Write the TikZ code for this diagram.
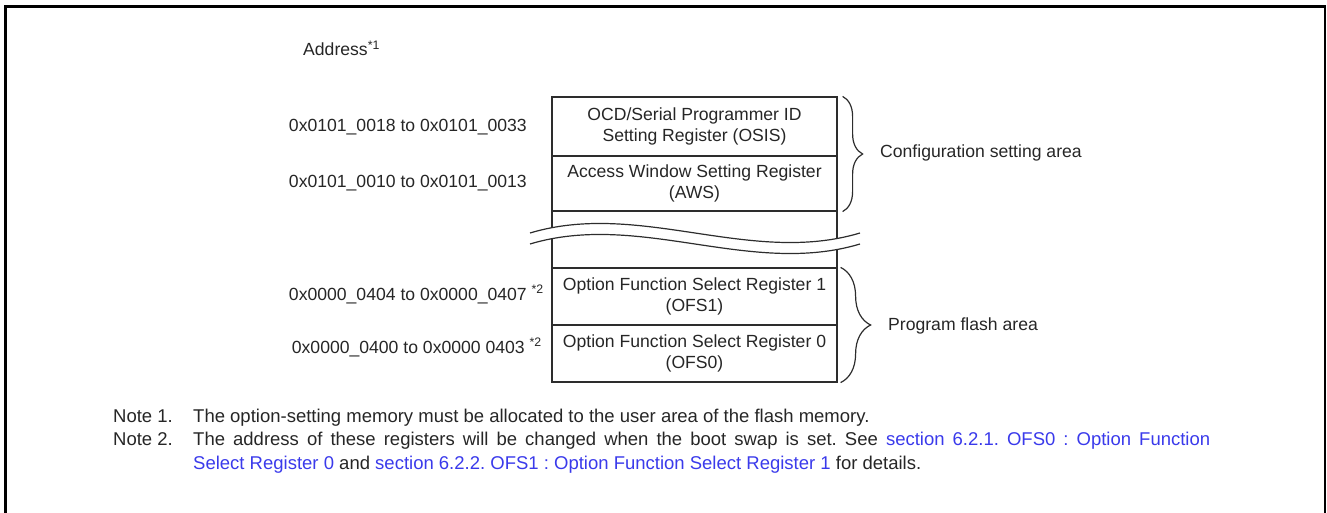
\documentclass[tikz,border=0pt]{standalone}
\usepackage{fontspec}
\setmainfont{Liberation Sans}
\usetikzlibrary{decorations.pathreplacing}
\definecolor{txtgray}{RGB}{38,38,38}
\definecolor{linegray}{RGB}{45,45,45}
\definecolor{linkblue}{RGB}{58,58,235}
\frenchspacing

\begin{document}
\begin{tikzpicture}[x=1pt,y=-1pt]
  \tikzstyle{reg}=[draw=linegray,line width=1.2pt,minimum width=285pt,inner sep=0pt,align=center,text=txtgray,font=\fontsize{17.6}{21.5}\selectfont]
  \tikzstyle{lbl}=[inner sep=0pt,text=txtgray,font=\fontsize{17.6}{21.5}\selectfont]
  \tikzstyle{note}=[inner sep=0pt,text=txtgray,font=\fontsize{18.5}{23}\selectfont,anchor=base west]
  \tikzstyle{wave}=[draw=linegray,line width=1.2pt]
  \tikzstyle{bracestyle}=[draw=linegray,line width=1.2pt,decorate]
  \useasboundingbox (0,0) rectangle (1327,513);
  % outer frame, open at the bottom
  \draw[line width=2.5pt] (5.3,513) -- (5.3,6.5) -- (1325,6.5) -- (1325,513);
  \node[lbl, anchor=base west] (addr) at (303,55.5) {Address\textsuperscript{*1}};
  % register column
  \node[reg, minimum height=59pt] (osis) at (694.5,126.5) {OCD/Serial Programmer ID\\Setting Register (OSIS)};
  \node[reg, minimum height=55pt] (aws) at (694.5,183.5) {Access Window Setting Register\\(AWS)};
  \node[reg, minimum height=57pt] (gap) at (694.5,239.5) {};
  \node[reg, minimum height=57pt] (ofs1) at (694.5,296.5) {Option Function Select Register 1\\(OFS1)};
  \node[reg, minimum height=57pt] (ofs0) at (694.5,353.5) {Option Function Select Register 0\\(OFS0)};
  % break in the column
  \fill[white] (530,233) .. controls (640,200) and (750,266) .. (860,233) -- (860,244) .. controls (750,277) and (640,211) .. (530,244) -- cycle;
  \draw[wave] (530,233) .. controls (640,200) and (750,266) .. (860,233);
  \draw[wave] (530,244) .. controls (640,211) and (750,277) .. (860,244);
  % addresses
  \node[lbl, anchor=base east] (a1) at (527,132) {0x0101\_0018 to 0x0101\_0033};
  \node[lbl, anchor=base east] (a2) at (527,188) {0x0101\_0010 to 0x0101\_0013};
  \node[lbl, anchor=base east] (a3) at (527,300) {0x0000\_0404 to 0x0000\_0407\rlap{ \textsuperscript{*2}}};
  \node[lbl, anchor=base east] (a4) at (525,353) {0x0000\_0400 to 0x0000 0403\rlap{ \textsuperscript{*2}}};
  % areas
  \draw[bracestyle, decoration={brace,amplitude=20pt}] (osis.north east) ++(5,0) coordinate (c1) -- (aws.south east -| c1);
  \node[lbl, anchor=west] (cfg) at (880,153) {Configuration setting area};
  \draw[bracestyle, decoration={brace,amplitude=30pt}] (ofs1.north east) ++(3,0) coordinate (c2) -- (ofs0.south east -| c2);
  \node[lbl, anchor=west] (pfa) at (888,326) {Program flash area};
  % notes
  \node[note] (n1) at (113,422) {Note 1.};
  \node[note] (n1t) at (193,422) {The option-setting memory must be allocated to the user area of the flash memory.};
  \node[note] (n2) at (113,445) {Note 2.};
  \node[note] (n2t) at (193,445) {\makebox[1017pt][s]{The address of these registers will be changed when the boot swap is set. See \textcolor{linkblue}{section 6.2.1. OFS0 : Option Function}}};
  \node[note] (n2u) at (193,469) {\textcolor{linkblue}{Select Register 0} and \textcolor{linkblue}{section 6.2.2. OFS1 : Option Function Select Register 1} for details.};
\end{tikzpicture}
\end{document}
